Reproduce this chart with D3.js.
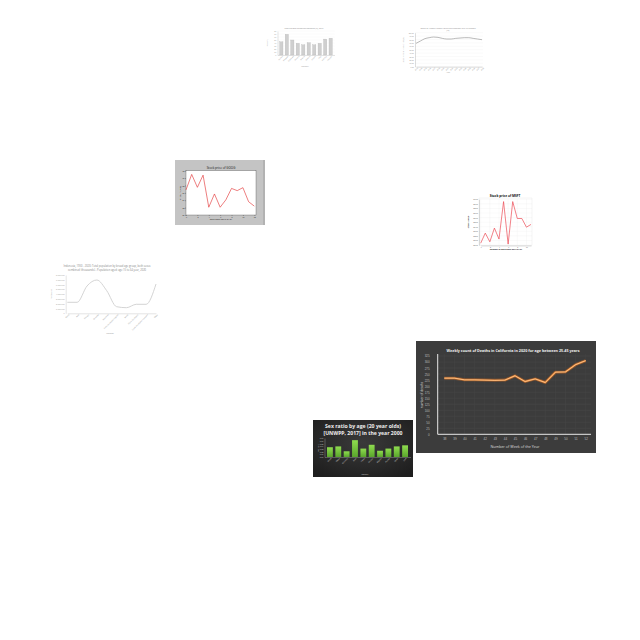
<!DOCTYPE html>
<html><head><meta charset="utf-8">
<script src="https://cdn.jsdelivr.net/npm/d3@7"></script>
<style>body{margin:0;background:#fff}svg{display:block;font-family:"Open Sans",sans-serif}</style>
</head><body>
<svg id="c" width="640" height="640"></svg>
<script>
// ---------- data ----------
const weekLabels = ["38","39","40","41","42","43","44","45","46","47","48","49","50","51","52"];
const weeklyDeaths = [233,233,226,226,225,224,225,243,219,230,215,258,259,289,306];
const deathTicks = [0,25,50,75,100,125,150,175,200,225,250,275,300,325];

const sexCountries = ["Brazil","China","Germany","India","Japan","Mexico","Nigeria","Russia","Spain","USA"];
const sexRatios = [1.036,1.039,1.021,1.062,1.031,1.045,1.023,1.031,1.039,1.043];

const barCategories = ["Austria","Belgium","Denmark","Finland","France","Greece","Ireland","Italy","Norway","Sweden"];
const barValues = [44,69,50,39,34,41,34,39,53,56];

const yearLabels = ["2003","2004","2005","2006","2007","2008","2009","2010","2011","2012","2013","2014","2015","2016","2017","2018"];
const rateValues = [68.6,75.5,82.4,85.3,87.3,86.3,83.3,81.4,81.4,83.3,84.3,85.3,85.3,83.3,81.4,79.4];

const stockDaysA = [0,1,2,3,4,5,6,7,8,9,10,11,12];
const stockPricesA = [26.8,31.0,27.5,30.8,22.1,25.7,22.1,24.1,27.2,26.6,27.4,23.6,22.4];

const stockDaysB = [0,1,2,3,4,5,6,7,8,9,10,11];
const stockPricesB = [150.4,152.6,150.7,153.7,151.3,159.5,150.2,159.5,155.8,155.8,153.9,154.5];

const popCategories = ["Africa","Asia","Europe","Oceania","Americas","Less developed regions","World","More developed","Least developed countries","Other"];
const popValues = [2298,2298,5702,6955,4720,1379,1170,1880,1880,6120];

const svg = d3.select("#c");

function tinyAxes(g, x, y, opts) {
  const ax = g.append("g").attr("transform", `translate(0,${opts.y0})`)
    .call(d3.axisBottom(x).tickSize(0).tickPadding(1.2).tickValues(opts.xTicks || null));
  ax.select(".domain").attr("stroke", opts.axisColor).attr("stroke-width", 0.4);
  ax.selectAll("text").attr("font-size", opts.fs).attr("fill", opts.textColor)
    .attr("text-anchor", opts.rotate ? "end" : "middle")
    .attr("transform", opts.rotate ? "rotate(-45)" : null)
    .attr("dy", opts.rotate ? "0.6em" : "0.7em");
  const ay = g.append("g").attr("transform", `translate(${opts.x0},0)`)
    .call(d3.axisLeft(y).tickSize(0).tickPadding(1.2).tickValues(opts.yTicks).tickFormat(opts.yFmt || null));
  ay.select(".domain").attr("stroke", opts.axisColor).attr("stroke-width", 0.4);
  ay.selectAll("text").attr("font-size", opts.fs).attr("fill", opts.textColor);
  return {ax, ay};
}

// ---------- chart 1: gray bars ----------
(function(){
  const g = svg.append("g");
  const x = d3.scaleBand().domain(barCategories).range([277.5, 334.5]).padding(0.4);
  const y = d3.scaleLinear().domain([0, 80]).range([55, 31]);
  g.append("g").selectAll("line").data(d3.range(0, 81, 10)).join("line")
    .attr("x1", 277.5).attr("x2", 334.5).attr("y1", d => y(d)).attr("y2", d => y(d))
    .attr("stroke", "#eee").attr("stroke-width", 0.3);
  g.selectAll("rect").data(barValues).join("rect")
    .attr("x", (d,i) => x(barCategories[i])).attr("width", x.bandwidth())
    .attr("y", d => y(d)).attr("height", d => y(0) - y(d))
    .attr("fill", "#cfcfcf").attr("stroke", "#b5b5b5").attr("stroke-width", 0.3);
  tinyAxes(g, x, y, {y0: 55, x0: 277.5, fs: 1.8, textColor: "#999", axisColor: "#bbb", rotate: true, yTicks: d3.range(0, 81, 10)});
  g.append("text").attr("x", 304).attr("y", 29).attr("text-anchor", "middle")
    .attr("font-size", 1.9).attr("fill", "#888").text("Share of total healthcare spending (%), 2015");
  g.append("text").attr("x", 305).attr("y", 67).attr("text-anchor", "middle")
    .attr("font-size", 2).attr("fill", "#999").text("Country");
  g.append("text").attr("transform", "translate(268,43) rotate(-90)").attr("text-anchor", "middle")
    .attr("font-size", 2).attr("fill", "#999").text("Percent");
})();

// ---------- chart 2: gray line ----------
(function(){
  const g = svg.append("g");
  const x = d3.scalePoint().domain(yearLabels).range([416, 482]);
  const y = d3.scaleLinear().domain([0, 100]).range([66.7, 32.7]);
  g.append("g").selectAll("line").data(d3.range(0, 101, 10)).join("line")
    .attr("x1", 415).attr("x2", 483).attr("y1", d => y(d)).attr("y2", d => y(d))
    .attr("stroke", "#eee").attr("stroke-width", 0.3);
  tinyAxes(g, x, y, {y0: 66.7, x0: 415, fs: 1.7, textColor: "#888", axisColor: "#aaa", rotate: true, yTicks: d3.range(0, 101, 10), yFmt: d => d.toFixed(2)});
  g.append("path").datum(rateValues)
    .attr("d", d3.line().x((d,i) => x(yearLabels[i])).y(d => y(d)).curve(d3.curveMonotoneX))
    .attr("fill", "none").attr("stroke", "#8a8a8a").attr("stroke-width", 0.6);
  g.append("text").attr("x", 448).attr("y", 28.6).attr("text-anchor", "middle")
    .attr("font-size", 2.1).attr("fill", "#888").text("Share of female labour force participation rate in Canada");
  g.append("text").attr("x", 448).attr("y", 31.2).attr("text-anchor", "middle")
    .attr("font-size", 2.1).attr("fill", "#888").text("(%)");
  g.append("text").attr("x", 448).attr("y", 73).attr("text-anchor", "middle")
    .attr("font-size", 1.8).attr("fill", "#999").text("Year");
  g.append("text").attr("transform", "translate(404,50) rotate(-90)").attr("text-anchor", "middle")
    .attr("font-size", 1.6).attr("fill", "#999").text("Labour force participation rate (%)");
})();

// ---------- chart 3: stock price (gray panel) ----------
(function(){
  const g = svg.append("g");
  g.append("rect").attr("x", 175).attr("y", 160).attr("width", 88).attr("height", 65).attr("fill", "#c4c4c4");
  g.append("rect").attr("x", 263).attr("y", 160).attr("width", 2).attr("height", 65).attr("fill", "#b2b2b2");
  g.append("rect").attr("x", 186).attr("y", 170.7).attr("width", 70).attr("height", 44.3).attr("fill", "#fff")
    .attr("stroke", "#333").attr("stroke-width", 0.3);
  const x = d3.scaleLinear().domain([0, 12]).range([186, 254.3]);
  const y = d3.scaleLinear().domain([20, 32]).range([215, 170.7]);
  const ax = g.append("g").attr("transform", "translate(0,215)")
    .call(d3.axisBottom(x).tickValues([0,2,4,6,8,10,12]).tickSize(0.8).tickPadding(0.8));
  ax.select(".domain").remove();
  ax.selectAll("text").attr("font-size", 1.8).attr("fill", "#222");
  ax.selectAll("line").attr("stroke-width", 0.3);
  const ay = g.append("g").attr("transform", "translate(186,0)")
    .call(d3.axisLeft(y).ticks(6).tickSize(0.8).tickPadding(0.8));
  ay.select(".domain").remove();
  ay.selectAll("text").attr("font-size", 1.8).attr("fill", "#222");
  ay.selectAll("line").attr("stroke-width", 0.3);
  g.append("path").datum(stockPricesA)
    .attr("d", d3.line().x((d,i) => x(stockDaysA[i])).y(d => y(d)))
    .attr("fill", "none").attr("stroke", "#e0282a").attr("stroke-width", 0.6);
  g.append("text").attr("x", 221).attr("y", 169).attr("text-anchor", "middle")
    .attr("font-size", 3).attr("fill", "#111").text("Stock price of GOOG");
  g.append("text").attr("x", 221).attr("y", 219.5).attr("text-anchor", "middle")
    .attr("font-size", 2.2).attr("fill", "#111").text("Days since 2015-01-01");
  g.append("text").attr("transform", "translate(180.5,193) rotate(-90)").attr("text-anchor", "middle")
    .attr("font-size", 2.2).attr("fill", "#111").text("Price (in USD)");
})();

// ---------- chart 4: stock price (white) ----------
(function(){
  const g = svg.append("g");
  const x = d3.scaleLinear().domain([0, 11]).range([480.7, 531]);
  const y = d3.scaleLinear().domain([150, 160]).range([245, 199.3]);
  g.append("g").selectAll("line").data(d3.range(150, 160.1, 1)).join("line")
    .attr("x1", 479).attr("x2", 532).attr("y1", d => y(d)).attr("y2", d => y(d))
    .attr("stroke", "#eee").attr("stroke-width", 0.3);
  g.append("g").selectAll("line").data(d3.range(0, 12, 2)).join("line")
    .attr("x1", d => x(d)).attr("x2", d => x(d)).attr("y1", 199).attr("y2", 245)
    .attr("stroke", "#eee").attr("stroke-width", 0.3);
  g.append("rect").attr("x", 479).attr("y", 198).attr("width", 53).attr("height", 47.5)
    .attr("fill", "none").attr("stroke", "#ddd").attr("stroke-width", 0.3);
  const ax = g.append("g").attr("transform", "translate(0,245.5)")
    .call(d3.axisBottom(x).tickValues(d3.range(0, 12, 2)).tickSize(0).tickPadding(1));
  ax.select(".domain").attr("stroke", "#888").attr("stroke-width", 0.3);
  ax.selectAll("text").attr("font-size", 1.6).attr("fill", "#555");
  const ay = g.append("g").attr("transform", "translate(479,0)")
    .call(d3.axisLeft(y).ticks(10).tickSize(0).tickPadding(1).tickFormat(d3.format(".2f")));
  ay.select(".domain").attr("stroke", "#888").attr("stroke-width", 0.3);
  ay.selectAll("text").attr("font-size", 1.6).attr("fill", "#555");
  g.append("path").datum(stockPricesB)
    .attr("d", d3.line().x((d,i) => x(stockDaysB[i])).y(d => y(d)))
    .attr("fill", "none").attr("stroke", "#ec4a54").attr("stroke-width", 0.7);
  g.append("text").attr("x", 505).attr("y", 197).attr("text-anchor", "middle")
    .attr("font-size", 3.2).attr("font-weight", "bold").attr("fill", "#111").text("Stock price of MSFT");
  g.append("text").attr("x", 506).attr("y", 250).attr("text-anchor", "middle")
    .attr("font-size", 2).attr("font-weight", "bold").attr("fill", "#222").text("Number of days since 2017-01-01");
  g.append("text").attr("transform", "translate(469,222) rotate(-90)").attr("text-anchor", "middle")
    .attr("font-size", 2.2).attr("font-weight", "bold").attr("fill", "#222").text("Stock value");
})();

// ---------- chart 5: population line ----------
(function(){
  const g = svg.append("g");
  const x = d3.scalePoint().domain(popCategories).range([67.3, 156]);
  const y = d3.scaleLinear().domain([0, 8000]).range([313.3, 275]);
  tinyAxes(g, x, y, {y0: 313.3, x0: 65.7, fs: 1.9, textColor: "#999", axisColor: "#bbb", rotate: true,
    yTicks: d3.range(0, 8001, 1000), yFmt: d => d3.format(",")(d * 1000)});
  g.append("path").datum(popValues)
    .attr("d", d3.line().x((d,i) => x(popCategories[i])).y(d => y(d)).curve(d3.curveMonotoneX))
    .attr("fill", "none").attr("stroke", "#cfcfcf").attr("stroke-width", 0.9);
  g.append("text").attr("x", 107).attr("y", 267).attr("text-anchor", "middle")
    .attr("font-size", 2.6).attr("fill", "#888").text("Indonesia, 1950 - 2020: Total population by broad age group, both sexes");
  g.append("text").attr("x", 107).attr("y", 271).attr("text-anchor", "middle")
    .attr("font-size", 2.6).attr("fill", "#888").text("combined (thousands) - Population aged: age 15 to 64 year, 2020");
  g.append("text").attr("x", 110).attr("y", 333.5).attr("text-anchor", "middle")
    .attr("font-size", 1.9).attr("fill", "#999").text("Location");
  g.append("text").attr("transform", "translate(52,294) rotate(-90)").attr("text-anchor", "middle")
    .attr("font-size", 1.9).attr("fill", "#999").text("Population");
})();

// ---------- chart 6: sex ratio (dark, green bars) ----------
(function(){
  const g = svg.append("g");
  const defs = svg.append("defs");
  const rg = defs.append("radialGradient").attr("id", "sxbg").attr("cx", "50%").attr("cy", "40%").attr("r", "70%");
  rg.append("stop").attr("offset", "0%").attr("stop-color", "#3a3a3a");
  rg.append("stop").attr("offset", "100%").attr("stop-color", "#1e1e1e");
  const lg = defs.append("linearGradient").attr("id", "grn").attr("x1", 0).attr("y1", 0).attr("x2", 0).attr("y2", 1);
  lg.append("stop").attr("offset", "0%").attr("stop-color", "#8fdc4f");
  lg.append("stop").attr("offset", "100%").attr("stop-color", "#5aa52c");
  g.append("rect").attr("x", 313).attr("y", 420).attr("width", 100).attr("height", 57).attr("fill", "url(#sxbg)");
  const x = d3.scaleBand().domain(sexCountries).range([324.5, 410.5]).padding(0.3);
  const y = d3.scaleLinear().domain([1.0, 1.07]).range([457, 438]);
  g.selectAll("rect.b").data(sexRatios).join("rect").attr("class", "b")
    .attr("x", (d,i) => x(sexCountries[i])).attr("width", x.bandwidth())
    .attr("y", d => y(d)).attr("height", d => y(1.0) - y(d)).attr("fill", "url(#grn)");
  tinyAxes(g, x, y, {y0: 457, x0: 324.5, fs: 1.9, textColor: "#ccc", axisColor: "#aaa", rotate: true,
    yTicks: [1.0, 1.01, 1.02, 1.03, 1.04, 1.05, 1.06, 1.07], yFmt: d3.format(".2f")});
  g.append("text").attr("x", 363).attr("y", 428).attr("text-anchor", "middle")
    .attr("font-size", 4.6).attr("font-weight", "bold").attr("fill", "#eee")
    .attr("textLength", 76).attr("lengthAdjust", "spacingAndGlyphs").text("Sex ratio by age (20 year olds)");
  g.append("text").attr("x", 363).attr("y", 434.5).attr("text-anchor", "middle")
    .attr("font-size", 4.6).attr("font-weight", "bold").attr("fill", "#eee")
    .attr("textLength", 79).attr("lengthAdjust", "spacingAndGlyphs").text("[UNWPP, 2017] in the year 2000");
  g.append("text").attr("x", 365).attr("y", 474.5).attr("text-anchor", "middle")
    .attr("font-size", 2).attr("fill", "#ccc").text("country");
  g.append("text").attr("transform", "translate(318.5,448) rotate(-90)").attr("text-anchor", "middle")
    .attr("font-size", 2).attr("fill", "#ccc").text("sex ratio");
})();

// ---------- chart 7: weekly deaths (dark, orange line) ----------
(function(){
  const g = svg.append("g");
  g.append("rect").attr("x", 416).attr("y", 341).attr("width", 180).attr("height", 112).attr("fill", "#3c3c3c");
  const x = d3.scalePoint().domain(weekLabels).range([444.3, 585.7]);
  const y = d3.scaleLinear().domain([0, 325]).range([434.3, 356]);
  // grid
  g.append("g").selectAll("line").data(deathTicks).join("line")
    .attr("x1", 437.7).attr("x2", 591).attr("y1", d => y(d)).attr("y2", d => y(d))
    .attr("stroke", "#4a4a4a").attr("stroke-width", 0.5);
  g.append("g").selectAll("line").data(weekLabels).join("line")
    .attr("x1", d => x(d)).attr("x2", d => x(d)).attr("y1", 354).attr("y2", 434.3)
    .attr("stroke", "#464646").attr("stroke-width", 0.5);
  // axes
  const ax = g.append("g").attr("transform", "translate(0,434.3)")
    .call(d3.axisBottom(x).tickSize(0).tickPadding(4));
  ax.select(".domain").attr("d", "M437.7,0H591").attr("stroke", "#e6e6e6").attr("stroke-width", 1);
  ax.selectAll("text").attr("font-size", 3).attr("fill", "#bbb");
  const ay = g.append("g").attr("transform", "translate(437.7,0)")
    .call(d3.axisLeft(y).tickValues(deathTicks).tickSize(0).tickPadding(8));
  ay.select(".domain").attr("d", "M0,354V434.3").attr("stroke", "#e6e6e6").attr("stroke-width", 1);
  ay.selectAll("text").attr("font-size", 3).attr("fill", "#bbb");
  // line with glow
  const line = d3.line().x((d,i) => x(weekLabels[i])).y(d => y(d));
  g.append("path").datum(weeklyDeaths).attr("d", line).attr("fill", "none")
    .attr("stroke", "#e8741c").attr("stroke-width", 3).attr("stroke-opacity", 0.45).attr("stroke-linejoin", "round");
  g.append("path").datum(weeklyDeaths).attr("d", line).attr("fill", "none")
    .attr("stroke", "#f08f3a").attr("stroke-width", 1.4).attr("stroke-linejoin", "round");
  g.append("path").datum(weeklyDeaths).attr("d", line).attr("fill", "none")
    .attr("stroke", "#ffd8b0").attr("stroke-width", 0.6).attr("stroke-linejoin", "round");
  // titles
  g.append("text").attr("x", 513).attr("y", 351.5).attr("text-anchor", "middle")
    .attr("font-size", 4.2).attr("font-weight", "bold").attr("fill", "#f2f2f2")
    .attr("textLength", 133).attr("lengthAdjust", "spacingAndGlyphs")
    .text("Weekly count of Deaths in California in 2020 for age between 25-45 years");
  g.append("text").attr("x", 515).attr("y", 448).attr("text-anchor", "middle")
    .attr("font-size", 3.3).attr("fill", "#ddd")
    .attr("textLength", 49).attr("lengthAdjust", "spacingAndGlyphs").text("Number of Week of the Year");
  g.append("text").attr("transform", "translate(422.5,395) rotate(-90)").attr("text-anchor", "middle")
    .attr("font-size", 3.2).attr("fill", "#ddd").text("number of deaths");
})();
</script>
</body></html>
